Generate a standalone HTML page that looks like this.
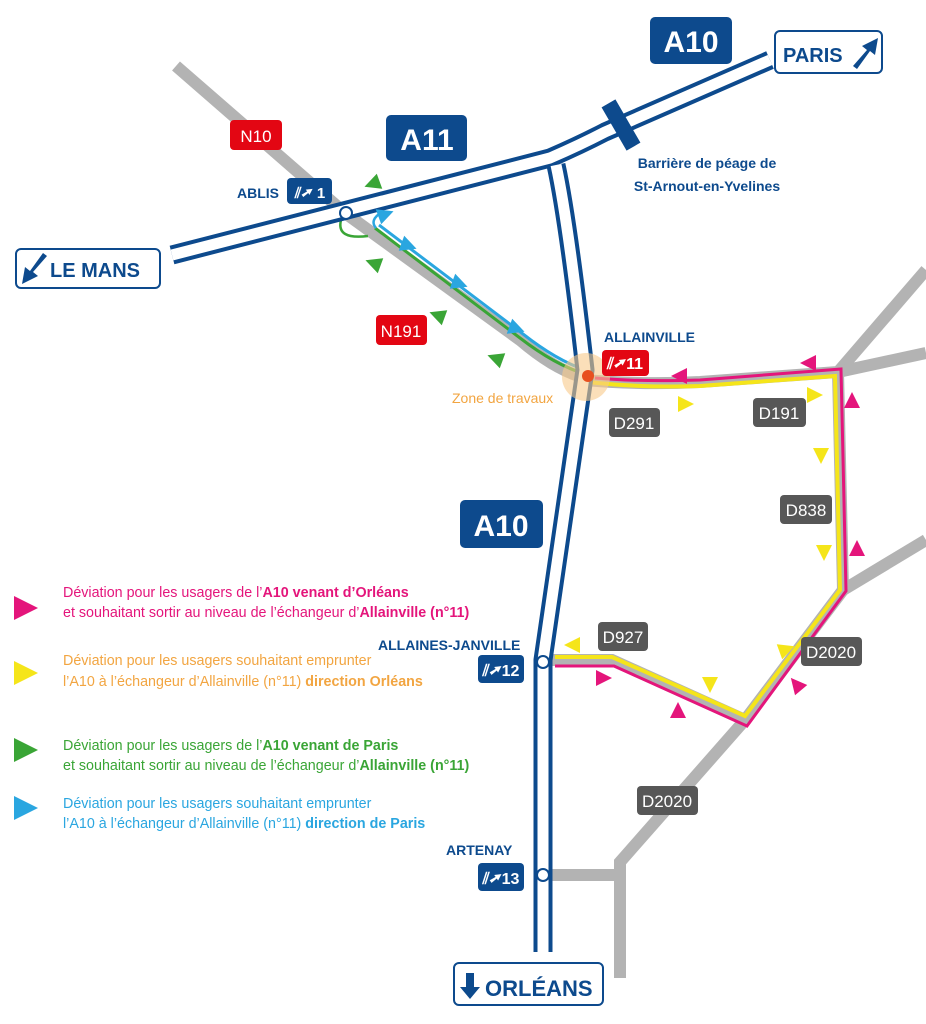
<!DOCTYPE html>
<html><head><meta charset="utf-8"><style>
html,body{margin:0;padding:0;background:#fff}
svg{display:block;font-family:"Liberation Sans",sans-serif}
.b{font-weight:bold}
</style></head><body>
<svg width="926" height="1024" viewBox="0 0 926 1024" xmlns="http://www.w3.org/2000/svg">
<defs><path id="tri" d="M-8,-8 L8,0 L-8,8Z"/></defs>
<g fill="none" stroke="#b3b3b3" stroke-width="12" stroke-linejoin="miter">
<path d="M176,66 L345,213 L520,340 Q555,370 585,378"/>
<path d="M585,380 Q640,385 700,382 L838,372 L926,270"/>
<path d="M838,372 L926,353"/>
<path d="M838,372 L843,590 L745,720 L620,862 L620,978"/>
<path d="M843,590 L926,540"/>
<path d="M548,660 L612,660 L745,720"/>
<path d="M548,875 L620,875"/>
</g>
<g fill="none" stroke-linejoin="miter">
<path d="M375,228 L520,338 Q555,365 585,374" stroke="#3aa536" stroke-width="3"/>
<path d="M379,225 L523,334 Q556,360 585,370" stroke="#2aa6e0" stroke-width="3"/>
<path d="M588,382 Q640,388 700,386 L835,376 L840,590 L745,716 L612,657 L555,657" stroke="#f5e51a" stroke-width="4"/>
<path d="M595,378 Q640,382 700,380 L841,369 L846,591 L747,726 L614,666 L555,666" stroke="#e4157b" stroke-width="3"/>
</g>
<path d="M341,220 Q336,240 368,236" fill="none" stroke="#3aa536" stroke-width="2.5"/>
<path d="M352,213 L394,199" fill="none" stroke="#3aa536" stroke-width="2.5"/>
<path d="M376,228 Q369,220 382,212" fill="none" stroke="#2aa6e0" stroke-width="2.5"/>
<g fill="none" stroke-linejoin="round">
<path d="M172,255 L550,158 Q580,145 605,132 L770,60" stroke="#0d4a8d" stroke-width="19"/>
<path d="M556,165 Q568,220 585,370 L543,660 L543,952" stroke="#0d4a8d" stroke-width="19"/>
<path d="M172,255 L550,158 Q580,145 605,132 L770,60" stroke="#fff" stroke-width="11"/>
<path d="M556,165 Q568,220 585,370 L543,660 L543,952" stroke="#fff" stroke-width="11"/>
</g>
<rect x="613" y="100" width="16" height="50" fill="#0d4a8d" transform="rotate(-30 621 125)"/>
<circle cx="586" cy="377" r="24" fill="#f9c98a" opacity="0.6"/>
<circle cx="588" cy="376" r="6" fill="#e8501f"/>
<circle cx="346" cy="213" r="6" fill="#fff" stroke="#0d4a8d" stroke-width="2"/>
<circle cx="543" cy="662" r="6" fill="#fff" stroke="#0d4a8d" stroke-width="2"/>
<circle cx="543" cy="875" r="6" fill="#fff" stroke="#0d4a8d" stroke-width="2"/>
<g fill="#3aa536">
<use href="#tri" transform="translate(372,184) rotate(160)"/>
<use href="#tri" transform="translate(373,263) rotate(200)"/>
<use href="#tri" transform="translate(437,315) rotate(200)"/>
<use href="#tri" transform="translate(495,358) rotate(200)"/>
<use href="#tri" transform="translate(26,750) scale(1.5)"/>
</g>
<g fill="#2aa6e0">
<use href="#tri" transform="translate(386,214) rotate(-20)"/>
<use href="#tri" transform="translate(409,246) rotate(20)"/>
<use href="#tri" transform="translate(460,284) rotate(20)"/>
<use href="#tri" transform="translate(517,329) rotate(20)"/>
<use href="#tri" transform="translate(26,808) scale(1.5)"/>
</g>
<g fill="#e4157b">
<use href="#tri" transform="translate(679,376) rotate(180)"/>
<use href="#tri" transform="translate(808,363) rotate(180)"/>
<use href="#tri" transform="translate(852,400) rotate(-90)"/>
<use href="#tri" transform="translate(857,548) rotate(-90)"/>
<use href="#tri" transform="translate(796,684) rotate(-130)"/>
<use href="#tri" transform="translate(678,710) rotate(-90)"/>
<use href="#tri" transform="translate(604,678)"/>
<use href="#tri" transform="translate(26,608) scale(1.5)"/>
</g>
<g fill="#f5e51a">
<use href="#tri" transform="translate(686,404)"/>
<use href="#tri" transform="translate(815,395)"/>
<use href="#tri" transform="translate(821,456) rotate(90)"/>
<use href="#tri" transform="translate(824,553) rotate(90)"/>
<use href="#tri" transform="translate(787,649) rotate(-20)"/>
<use href="#tri" transform="translate(710,685) rotate(90)"/>
<use href="#tri" transform="translate(572,645) rotate(180)"/>
<use href="#tri" transform="translate(26,673) scale(1.5)"/>
</g>
<g fill="#0d4a8d">
<rect x="650" y="17" width="82" height="47" rx="5"/>
<rect x="386" y="115" width="81" height="46" rx="5"/>
<rect x="460" y="500" width="83" height="48" rx="5"/>
<rect x="287" y="178" width="45" height="26" rx="4"/>
<rect x="478" y="655" width="46" height="28" rx="4"/>
<rect x="478" y="863" width="46" height="28" rx="4"/>
</g>
<g fill="#e30613">
<rect x="230" y="120" width="52" height="30" rx="4"/>
<rect x="376" y="315" width="51" height="30" rx="4"/>
<rect x="602" y="350" width="47" height="26" rx="4"/>
</g>
<g fill="#575757">
<rect x="609" y="408" width="51" height="29" rx="4"/>
<rect x="753" y="398" width="53" height="29" rx="4"/>
<rect x="780" y="495" width="52" height="29" rx="4"/>
<rect x="598" y="622" width="50" height="29" rx="4"/>
<rect x="801" y="637" width="61" height="29" rx="4"/>
<rect x="637" y="786" width="61" height="29" rx="4"/>
</g>
<g fill="#fff" stroke="#0d4a8d" stroke-width="2">
<rect x="775" y="31" width="107" height="42" rx="5"/>
<rect x="16" y="249" width="144" height="39" rx="5"/>
<rect x="454" y="963" width="149" height="42" rx="5"/>
</g>
<g fill="#fff" class="b" text-anchor="middle">
<text x="691" y="52" font-size="30">A10</text>
<text x="427" y="150" font-size="30">A11</text>
<text x="501" y="536" font-size="30">A10</text>
<text x="310" y="198" font-size="15">⫽➚ 1</text>
<text x="501" y="676" font-size="16">⫽➚12</text>
<text x="501" y="884" font-size="16">⫽➚13</text>
<text x="625" y="369" font-size="16">⫽➚11</text>
</g>
<g fill="#fff" text-anchor="middle" font-size="17">
<text x="256" y="142">N10</text>
<text x="401" y="337">N191</text>
<text x="634" y="429">D291</text>
<text x="779" y="419">D191</text>
<text x="806" y="516">D838</text>
<text x="623" y="643">D927</text>
<text x="831" y="658">D2020</text>
<text x="667" y="807">D2020</text>
</g>
<g fill="#0d4a8d" class="b">
<text x="783" y="62" font-size="20">PARIS</text>
<path d="M853,66 L867,50 L862,46 L878,38 L875,55 L870,51 L857,69Z"/>
<path d="M853,66 L867,50 L862,46 L878,38 L875,55 L870,51 L857,69Z" transform="translate(-830,216) rotate(180 865 53)"/>
<text x="50" y="277" font-size="20">LE MANS</text>
<path d="M466,973 h8 v14 h6 l-10,12 l-10,-12 h6z"/>
<text x="485" y="996" font-size="22">ORLÉANS</text>
<text x="237" y="198" font-size="14">ABLIS</text>
<text x="604" y="342" font-size="14">ALLAINVILLE</text>
<text x="378" y="650" font-size="14">ALLAINES-JANVILLE</text>
<text x="446" y="855" font-size="14">ARTENAY</text>
<text x="707" y="168" font-size="14" text-anchor="middle">Barrière de péage de</text>
<text x="707" y="191" font-size="14" text-anchor="middle">St-Arnout-en-Yvelines</text>
</g>
<text x="452" y="403" font-size="14" fill="#f2a541">Zone de travaux</text>
<g font-size="14.3">
<text x="63" y="597" fill="#e4157b">Déviation pour les usagers de l’<tspan class="b">A10 venant d’Orléans</tspan></text>
<text x="63" y="617" fill="#e4157b">et souhaitant sortir au niveau de l’échangeur d’<tspan class="b">Allainville (n°11)</tspan></text>
<text x="63" y="665" fill="#f2a541">Déviation pour les usagers souhaitant emprunter</text>
<text x="63" y="686" fill="#f2a541">l’A10 à l’échangeur d’Allainville (n°11) <tspan class="b">direction Orléans</tspan></text>
<text x="63" y="750" fill="#3aa536">Déviation pour les usagers de l’<tspan class="b">A10 venant de Paris</tspan></text>
<text x="63" y="770" fill="#3aa536">et souhaitant sortir au niveau de l’échangeur d’<tspan class="b">Allainville (n°11)</tspan></text>
<text x="63" y="808" fill="#2aa6e0">Déviation pour les usagers souhaitant emprunter</text>
<text x="63" y="828" fill="#2aa6e0">l’A10 à l’échangeur d’Allainville (n°11) <tspan class="b">direction de Paris</tspan></text>
</g>
</svg>
</body></html>
